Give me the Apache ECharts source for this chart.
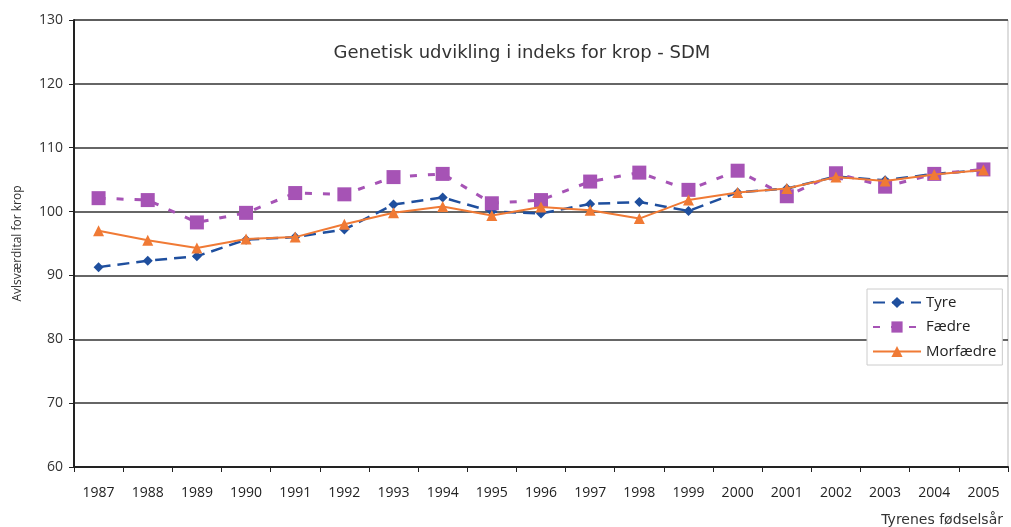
<!DOCTYPE html>
<html>
<head>
<meta charset="utf-8">
<script src="https://cdn.jsdelivr.net/npm/echarts@6/dist/echarts.min.js"></script>
<style>
html, body { margin: 0; padding: 0; background: #fff; }
#chart { width: 1011px; height: 527px; }
</style>
</head>
<body>
<div id="chart"></div>
<script>
var years = ['1987', '1988', '1989', '1990', '1991', '1992', '1993', '1994', '1995', '1996',
    '1997', '1998', '1999', '2000', '2001', '2002', '2003', '2004', '2005'];
var tyre = [91.3, 92.3, 93.0, 95.6, 96.0, 97.2, 101.1, 102.2, 100.0, 99.7,
    101.2, 101.5, 100.1, 103.0, 103.6, 105.5, 104.9, 105.9, 106.5];
var faedre = [102.1, 101.8, 98.3, 99.8, 102.9, 102.7, 105.4, 105.9, 101.3, 101.8,
    104.7, 106.1, 103.4, 106.4, 102.4, 106.0, 103.9, 105.9, 106.6];
var morfaedre = [97.0, 95.5, 94.3, 95.7, 96.0, 98.0, 99.8, 100.8, 99.4, 100.7,
    100.2, 98.9, 101.8, 103.0, 103.6, 105.4, 104.8, 105.8, 106.5];
var names = ['Tyre', 'Fædre', 'Morfædre'];

var font = 'Open Sans';
var myChart = echarts.init(document.getElementById('chart'));

var option = {
    animation: false,
    textStyle: { fontFamily: font },
    title: [{
        text: 'Genetisk udvikling i indeks for krop - SDM',
        left: 517,
        top: 39,
        textAlign: 'center',
        textStyle: { fontSize: 18, fontWeight: 'normal', color: '#333', fontFamily: 'DejaVu Sans' }
    }, {
        text: 'Tyrenes fødselsår',
        right: 3,
        top: 508,
        textStyle: { fontSize: 14, fontWeight: 'normal', color: '#333', fontFamily: 'DejaVu Sans' }
    }],
    grid: {
        left: 74,
        right: 3,
        top: 20,
        bottom: 60,
        show: true,
        borderColor: '#bbb',
        borderWidth: 1
    },
    legend: {
        orient: 'vertical',
        left: 867,
        top: 289,
        itemWidth: 48,
        itemHeight: 14,
        itemGap: 9.5,
        padding: [6, 6, 6, 5],
        borderColor: '#ccc',
        borderWidth: 1,
        backgroundColor: '#fff',
        textStyle: { fontSize: 15, lineHeight: 14, color: '#222', fontFamily: font },
        data: names
    },
    xAxis: {
        type: 'category',
        data: years,
        boundaryGap: true,
        axisLine: { lineStyle: { color: '#222', width: 2 } },
        axisTick: { show: true, length: 5, lineStyle: { color: '#222' } },
        axisLabel: { fontSize: 14, color: '#222', margin: 19, interval: 0 }
    },
    yAxis: {
        type: 'value',
        min: 60,
        max: 130,
        interval: 10,
        name: 'Avlsværdital for krop',
        nameLocation: 'middle',
        nameGap: 50,
        nameTextStyle: { fontSize: 12, color: '#333' },
        axisLine: { show: true, lineStyle: { color: '#222', width: 2 } },
        axisTick: { show: true, length: 5, lineStyle: { color: '#222' } },
        axisLabel: { fontSize: 14, color: '#333', margin: 11 },
        splitLine: { lineStyle: { color: '#333', width: 1.5 } }
    },
    series: [{
        name: 'Tyre',
        type: 'line',
        data: tyre,
        symbol: 'diamond',
        symbolSize: 10,
        color: '#1f4f9e',
        lineStyle: { width: 2.5, type: [12, 7] },
        z: 2
    }, {
        name: 'Fædre',
        type: 'line',
        data: faedre,
        symbol: 'rect',
        symbolSize: 14,
        color: '#a653b5',
        lineStyle: { width: 3, type: [7, 11] },
        z: 3
    }, {
        name: 'Morfædre',
        type: 'line',
        data: morfaedre,
        symbol: 'triangle',
        symbolSize: 11,
        color: '#f07a35',
        lineStyle: { width: 2 },
        z: 4
    }]
};

myChart.setOption(option);
</script>
</body>
</html>
